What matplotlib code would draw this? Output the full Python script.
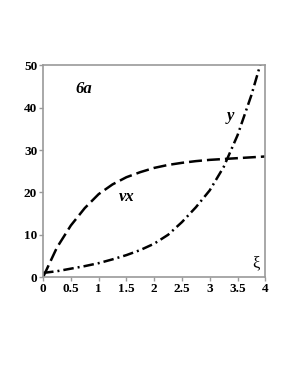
import matplotlib
matplotlib.use("Agg")
import matplotlib.pyplot as plt

# values
xi = [0, 0.25, 0.5, 0.75, 1.0, 1.25, 1.5, 1.75, 2.0, 2.25, 2.5, 2.75, 3.0, 3.25, 3.5, 3.75, 4.0]
vx = [0, 7.0, 12.2, 16.3, 19.6, 21.9, 23.6, 24.8, 25.8, 26.5, 27.0, 27.4, 27.7, 27.9, 28.1, 28.3, 28.5]
xi_y = [0, 0.25, 0.5, 0.75, 1.0, 1.25, 1.5, 1.75, 2.0, 2.25, 2.5, 2.75, 3.0, 3.25, 3.5, 3.75, 3.95]
y = [1.0, 1.4, 2.0, 2.6, 3.3, 4.2, 5.2, 6.4, 7.9, 10.0, 13.0, 16.5, 20.5, 26.0, 33.5, 43.0, 52.0]
xticks = [0, 0.5, 1, 1.5, 2, 2.5, 3, 3.5, 4]
xtick_labels = ["0", "0.5", "1", "1.5", "2", "2.5", "3", "3.5", "4"]
yticks = [0, 10, 20, 30, 40, 50]

serif = "Liberation Serif"
grey = "#9a9a9a"

fig = plt.figure(figsize=(2.89, 3.74), dpi=100)
ax = fig.add_axes([0.149, 0.259, 0.769, 0.566])

ax.plot(xi, vx, color="black", lw=1.8, linestyle=(0, (5.2, 2.0)))
ax.plot(xi_y, y, color="black", lw=1.8, linestyle=(0, (4.2, 1.6, 0.8, 1.6)))

ax.set_xlim(0, 4)
ax.set_ylim(0, 50)
ax.set_xticks(xticks)
ax.set_xticklabels(xtick_labels)
ax.set_yticks(yticks)

for s in ax.spines.values():
    s.set_color(grey)
    s.set_linewidth(1.2)
ax.tick_params(direction="out", length=3, width=1, color=grey, pad=1.2)
for lab in ax.get_xticklabels() + ax.get_yticklabels():
    lab.set_family(serif)
    lab.set_fontweight("bold")
    lab.set_fontsize(9.5)

# annotations
ax.text(0.73, 44.5, "6a", family=serif, fontweight="bold", style="italic", fontsize=12, ha="center", va="center")
ax.text(1.51, 19, "vx", family=serif, fontweight="bold", style="italic", fontsize=12, ha="center", va="center")
ax.text(3.37, 38, "y", family=serif, fontweight="bold", style="italic", fontsize=12, ha="center", va="center")
ax.text(3.84, 3.3, "ξ", family=serif, fontsize=12, ha="center", va="center")

fig.savefig("out.png", dpi=100)
